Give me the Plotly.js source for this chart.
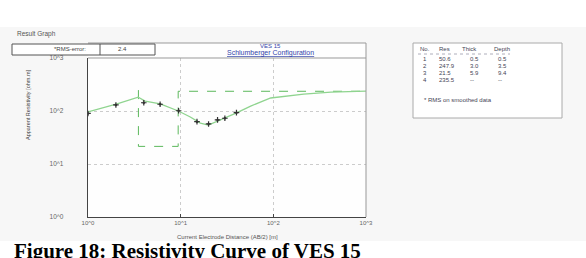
<!DOCTYPE html>
<html><head><meta charset="utf-8">
<script src="https://cdn.plot.ly/plotly-3.0.1.min.js"></script>
<style>html,body{margin:0;padding:0;background:#fff;}#chart{width:586px;height:258px;}</style>
</head><body><div id="chart"></div>
<script>
// Observed apparent resistivity data
const obsAB2 = [1, 2, 4, 6, 9.5, 15, 20, 25, 30, 40];
const obsRho = [90, 130, 143, 134, 101, 63, 57, 68, 73, 93];
// Calculated (model response) curve
const calcAB2 = [1, 2.06, 3.48, 4.14, 6.02, 9.44, 12.7, 16.3, 19.9, 25.6, 40.1, 56.9, 93.6, 213, 418, 1000];
const calcRho = [96, 136, 183, 154, 136, 100, 77, 59, 54, 65, 92, 124, 176, 209, 228, 238];
// Layer model table
const layerNo = ['1', '2', '3', '4'];
const layerRes = [50.6, 247.9, 21.5, 235.5];
const layerThick = ['0.5', '3.0', '5.9', '--'];
const layerDepth = ['0.5', '3.5', '9.4', '--'];
const tickVals = [1, 10, 100, 1000];
const tickText = ['10^0', '10^1', '10^2', '10^3'];
const rmsError = '2.4';

// model step line (from layer 2 boundary onward)
const depthsNum = [0.5, 3.5, 9.4];
const modelX = [depthsNum[1], depthsNum[1], depthsNum[2], depthsNum[2], 1000];
const modelY = [layerRes[1], layerRes[2], layerRes[2], layerRes[3], layerRes[3]];

const L = 88, R = 366, T = 58, B = 217;
const px = x => (x - L) / (R - L);
const py = y => (B - y) / (B - T);
const FONT = 'Liberation Sans, Arial, sans-serif';

const traces = [
  {x: modelX, y: modelY, type: 'scatter', mode: 'lines', line: {color: '#5cb85c', width: 1, dash: 'dash'}, hoverinfo: 'skip'},
  {x: calcAB2, y: calcRho, type: 'scatter', mode: 'lines', line: {color: '#8fd48f', width: 1.3}, hoverinfo: 'skip'},
  {x: obsAB2, y: obsRho, type: 'scatter', mode: 'markers', marker: {symbol: 'cross-thin-open', size: 4, color: '#333', line: {color: '#333', width: 1.2}}},
  {x: obsAB2, y: obsRho, type: 'scatter', mode: 'markers', marker: {symbol: 'circle', size: 2.5, color: '#333'}}
];

const shapes = [
  {type: 'rect', xref: 'paper', yref: 'paper', x0: px(0), x1: px(586), y0: py(241), y1: py(27), fillcolor: '#f7f7f7', line: {width: 0}, layer: 'below'},
  {type: 'rect', xref: 'paper', yref: 'paper', x0: px(88), x1: px(366), y0: py(217), y1: py(43), fillcolor: '#fefefe', line: {width: 0}, layer: 'below'},
  {type: 'line', xref: 'paper', yref: 'paper', x0: px(88), x1: px(366), y0: py(43), y1: py(43), line: {color: '#999', width: 1}},
  {type: 'line', xref: 'paper', yref: 'paper', x0: px(88), x1: px(366), y0: py(58), y1: py(58), line: {color: '#999', width: 1}},
  {type: 'line', xref: 'paper', yref: 'paper', x0: px(366), x1: px(366), y0: py(43), y1: py(217), line: {color: '#999', width: 1}},
  {type: 'rect', xref: 'paper', yref: 'paper', x0: px(12), x1: px(155), y0: py(55), y1: py(44), fillcolor: '#fff', line: {color: '#555', width: 1}},
  {type: 'line', xref: 'paper', yref: 'paper', x0: px(100), x1: px(100), y0: py(55), y1: py(44), line: {color: '#555', width: 1}},
  {type: 'rect', xref: 'paper', yref: 'paper', x0: px(413), x1: px(562), y0: py(118), y1: py(43), fillcolor: '#fff', line: {color: '#aaa', width: 1}},
  {type: 'line', xref: 'paper', yref: 'paper', x0: px(418), x1: px(510), y0: py(54), y1: py(54), line: {color: '#99a', width: 0.8, dash: 'dot'}}
];

const ann = (x, y, text, size, color, xanchor, extra) => Object.assign({xref: 'paper', yref: 'paper', x: px(x), y: py(y), text: text, showarrow: false, xanchor: xanchor || 'left', yanchor: 'middle', font: {family: FONT, size: size, color: color}}, extra || {});

const annotations = [
  ann(15, 34, 'Result Graph', 6.5, '#555'),
  ann(70, 49.5, '*RMS-error:', 6, '#444', 'center'),
  ann(122, 49.5, rmsError, 6, '#444', 'center'),
  ann(270, 46, 'VES 15', 6, '#3344aa', 'center'),
  ann(270, 53, '<u>Schlumberger Configuration</u>', 7, '#3344aa', 'center'),
  ann(28, 105, 'Apparent Resistivity [ohm.m]', 5.5, '#444', 'center', {textangle: -90}),
  ann(227, 237, 'Current Electrode Distance (AB/2) [m]', 6, '#555', 'center'),
  ann(418, 49, 'No.', 6, '#445'),
  ann(437, 49, 'Res', 6, '#445'),
  ann(460, 49, 'Thick', 6, '#445'),
  ann(492, 49, 'Depth', 6, '#445'),
  ann(422, 100, '* RMS on smoothed data', 6, '#445', 'left'),
  ann(12, 251, '<b>Figure 18: Resistivity Curve of VES 15</b>', 21, '#000', 'left', {font: {family: 'Liberation Serif, Times New Roman, serif', size: 21, color: '#000'}})
];
for (let i = 0; i < layerNo.length; i++) {
  const yy = 59 + i * 7;
  annotations.push(ann(421, yy, layerNo[i], 6, '#445', 'left'));
  annotations.push(ann(437, yy, layerRes[i].toFixed(1), 6, '#445', 'left'));
  annotations.push(ann(468, yy, layerThick[i], 6, '#445', 'left'));
  annotations.push(ann(496, yy, layerDepth[i], 6, '#445', 'left'));
}

const layout = {
  width: 586, height: 258,
  margin: {l: L, r: 586 - R, t: T, b: 258 - B, pad: 0},
  paper_bgcolor: '#fff', plot_bgcolor: 'rgba(0,0,0,0)',
  showlegend: false,
  xaxis: {type: 'log', range: [0, 3], tickvals: tickVals, ticktext: tickText, tickfont: {family: FONT, size: 6, color: '#666'},
    showline: true, linecolor: '#444', linewidth: 1.2, ticks: 'inside', ticklen: 3, tickcolor: '#444',
    showgrid: true, gridcolor: '#ccc', griddash: 'dot', gridwidth: 1, zeroline: false},
  yaxis: {type: 'log', range: [0, 3], tickvals: tickVals, ticktext: tickText, tickfont: {family: FONT, size: 6.5, color: '#666'},
    showline: true, linecolor: '#444', linewidth: 1.2, ticks: '', ticklabelstandoff: 22,
    showgrid: true, gridcolor: '#ccc', griddash: 'dot', gridwidth: 1, zeroline: false},
  shapes: shapes,
  annotations: annotations
};
Plotly.newPlot('chart', traces, layout, {displayModeBar: false, staticPlot: true});
</script></body></html>
